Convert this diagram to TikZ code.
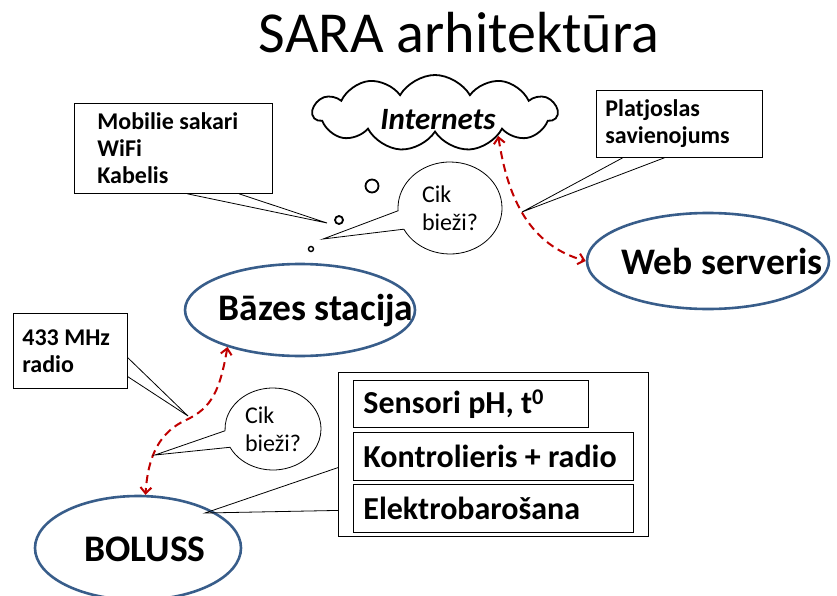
\documentclass[tikz,border=0pt]{standalone}
\usepackage{fontspec}
\setmainfont{Carlito}
\usetikzlibrary{positioning,arrows.meta,shapes.geometric,shapes.symbols,shapes.callouts,calc}
\definecolor{sarablue}{RGB}{56,93,138}
\definecolor{sarared}{RGB}{192,0,0}
\newcommand{\notetext}[2]{\parbox{#1}{#2}}
\begin{document}
\begin{tikzpicture}[x=1pt,y=1pt,>={Straight Barb[length=6pt,width=11pt]},
  ell/.style={ellipse,draw=sarablue,line width=2.6pt,inner sep=0pt},
  lbl/.style={inner sep=0pt,font=\fontsize{37.5}{42}\selectfont\bfseries},
  note/.style={draw,line width=0.8pt,anchor=north west,fill=white,font=\fontsize{24}{27}\selectfont\bfseries},
  part/.style={draw,line width=0.8pt,anchor=north west,inner xsep=10pt,font=\fontsize{32}{34}\selectfont\bfseries},
  cik/.style={ellipse callout,draw,line width=0.8pt,inner sep=0pt,align=left,callout pointer arc=24,font=\fontsize{24}{28}\selectfont},
  bub/.style={circle,draw,line width=1.8pt,inner sep=0pt},
  tail/.style={line width=0.8pt},
  link/.style={<->,draw=sarared,line width=2pt,dash pattern=on 8pt off 5pt}]
\useasboundingbox (0,0) rectangle (837,-596);
% title
\node[anchor=base,font=\fontsize{58}{62}\selectfont] (T) at (459,-53) {SARA arhitektūra};
% internet and server
\node[cloud,draw,line width=1.8pt,cloud puffs=11,cloud puff arc=120,aspect=3.2,minimum width=244pt,minimum height=76pt,inner sep=0pt] (NET) at (435,-113) {};
\node[inner sep=0pt,font=\fontsize{31}{34}\selectfont\bfseries\itshape] (NETtxt) at (438,-120) {Internets};
\node[ell,minimum width=242pt,minimum height=96pt] (WEB) at (708,-261) {};
\node[lbl] (WEBtxt) at (722,-261) {Web serveris};
\draw[link] (NET.-20) .. controls (508,-200) and (530,-245) .. (WEB.west);
\node[note,minimum width=166pt,minimum height=67pt,inner xsep=9pt] (PLAT) at (596,-90) {\notetext{148pt}{Platjoslas\\savienojums}};
\coordinate (PLATtip) at (522,-212);
\draw[tail] ($(PLAT.south west)!0.16!(PLAT.south east)$) -- (PLATtip) -- ($(PLAT.south west)!0.41!(PLAT.south east)$);
% base station
\node[ell,minimum width=230pt,minimum height=92pt] (BS) at (300,-310) {};
\node[lbl] (BStxt) at (316,-311) {Bāzes stacija};
\node[note,minimum width=198pt,minimum height=90pt,inner xsep=23pt] (MOB) at (74,-103) {\notetext{152pt}{Mobilie sakari\\WiFi\\Kabelis}};
\coordinate (MOBtip) at (327,-223);
\draw[tail] ($(MOB.south west)!0.57!(MOB.south east)$) -- (MOBtip) -- ($(MOB.south west)!0.83!(MOB.south east)$);
\node[bub,minimum size=13pt] (B1) at (372,-186) {};
\node[bub,minimum size=8pt] (B2) at (339,-220) {};
\node[bub,minimum size=5pt,line width=1.4pt] (B3) at (311,-249) {};
\coordinate (CIKAtip) at (323,-239);
\node[cik,minimum width=104pt,minimum height=92pt,callout absolute pointer={(CIKAtip)}] (CIKA) at (450,-208) {Cik\\bieži?};
% bolus
\node[ell,minimum width=206pt,minimum height=104pt] (BOL) at (138,-548) {};
\node[lbl] (BOLtxt) at (145,-549) {BOLUSS};
\draw[link] (BS.207) .. controls (220,-390) and (212,-408) .. (186,-420) .. controls (160,-432) and (148,-455) .. (BOL.82);
\node[note,minimum width=114pt,minimum height=75pt,inner xsep=9pt] (RAD) at (13,-313) {\notetext{96pt}{433 MHz\\radio}};
\coordinate (RADtip) at (188,-416);
\draw[tail] ($(RAD.north east)!0.59!(RAD.south east)$) -- (RADtip) -- ($(RAD.north east)!0.84!(RAD.south east)$);
\coordinate (CIKBtip) at (155,-455);
\node[cik,minimum width=96pt,minimum height=82pt,callout absolute pointer={(CIKBtip)}] (CIKB) at (273,-429) {Cik\\bieži?};
% bolus parts
\node[draw,line width=0.8pt,anchor=north west,minimum width=310pt,minimum height=164pt] (HW) at (338,-372) {};
\node[part,minimum height=47pt] (SEN) at (353,-380) {\makebox[215pt][l]{Sensori pH, t\textsuperscript{0}}};
\node[part,minimum height=48pt] (KON) at (353,-432) {\makebox[260pt][l]{Kontrolieris + radio}};
\node[part,minimum height=48pt] (ELE) at (353,-484) {\makebox[260pt][l]{Elektrobarošana}};
\coordinate (HWtip) at (205,-513);
\draw[tail] ($(HW.north west)!0.58!(HW.south west)$) -- (HWtip) -- ($(HW.north west)!0.84!(HW.south west)$);
\end{tikzpicture}
\end{document}
